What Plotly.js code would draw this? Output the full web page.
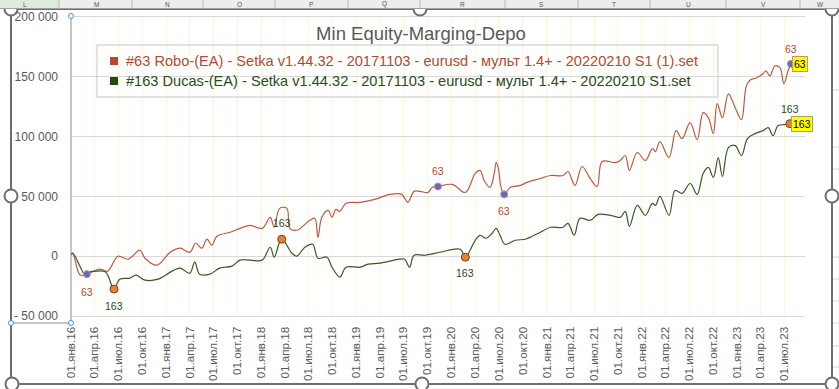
<!DOCTYPE html>
<html>
<head>
<meta charset="utf-8">
<script src="https://cdn.plot.ly/plotly-3.0.1.min.js"></script>
<style>
  html, body { margin: 0; padding: 0; background: #ffffff; }
  #chart { width: 839px; height: 389px; }
</style>
</head>
<body>
<div id="chart"></div>
<script>
// ---- series: minimum equity per date ----
const roboName = '#63 Robo-(EA) - Setka v1.44.32 - 20171103 - eurusd - мульт 1.4+ - 20220210 S1 (1).set';
const ducasName = '#163 Ducas-(EA) - Setka v1.44.32 - 20171103 - eurusd - мульт 1.4+ - 20220210 S1.set';

const roboDates = ['2016-01-01','2016-01-08','2016-02-05','2016-03-02','2016-04-20','2016-05-21','2016-06-29','2016-08-07','2016-09-22','2016-10-11','2016-11-26',
  '2017-01-16','2017-02-23','2017-04-01','2017-04-24','2017-05-17','2017-06-06','2017-06-25','2017-07-14','2017-09-03','2017-10-11','2017-11-19',
  '2018-01-04','2018-02-04','2018-02-19','2018-03-12','2018-04-09','2018-04-20','2018-05-17','2018-07-06','2018-07-25','2018-08-06','2018-08-21','2018-09-14','2018-09-29','2018-10-14','2018-10-29','2018-11-22',
  '2019-01-15','2019-03-12','2019-05-09','2019-06-24','2019-07-17','2019-08-10','2019-09-02','2019-10-03','2019-10-18','2019-11-10',
  '2020-01-04','2020-02-23','2020-04-01','2020-04-20','2020-05-05','2020-05-28','2020-06-13','2020-06-20','2020-06-28','2020-07-09','2020-07-21','2020-08-13','2020-09-21','2020-10-17','2020-12-07',
  '2021-01-15','2021-03-04','2021-03-23','2021-04-19','2021-05-16','2021-06-16','2021-07-13','2021-08-01','2021-09-21','2021-10-10','2021-10-29','2021-11-14','2021-12-14',
  '2022-01-14','2022-02-10','2022-02-22','2022-03-11','2022-04-15','2022-05-12','2022-06-04','2022-07-05','2022-08-01','2022-08-24','2022-09-13','2022-10-02','2022-10-17','2022-11-06','2022-11-29','2022-12-25',
  '2023-01-18','2023-02-06','2023-02-22','2023-03-18','2023-04-11','2023-04-22','2023-05-07','2023-05-27','2023-06-15','2023-06-30','2023-07-16','2023-07-27'];
const roboValues = [1000,2500,-15800,-15000,-10800,-12500,0,-2500,5000,-1700,-7500,
  3300,6700,3300,10800,6700,14200,9200,16700,20000,23300,25800,
  23300,32500,24200,40000,40000,23300,21700,30000,31700,15800,32500,38300,32500,39200,37500,44200,
  45000,47500,51700,51700,45000,54200,54200,53300,57500,58300,
  60000,53300,69200,71700,63300,57500,69200,78300,74200,57500,51700,57500,59200,61700,65000,
  67500,67500,70800,59200,75000,65000,58300,79200,78300,80000,84200,71700,86700,
  80000,90000,87500,95800,82500,105000,98300,111700,97500,120000,115800,102500,127500,115800,135800,124200,
  114200,142500,147500,149200,152500,155000,150800,159200,157500,144200,155000,160800];
const roboMarked = [3, 47, 58, 103];          // labelled points
const roboLabel = '63';

const ducasDates = ['2016-01-01','2016-01-08','2016-02-24','2016-03-02','2016-04-09','2016-05-13','2016-06-14','2016-07-06','2016-08-14','2016-09-07','2016-10-11','2016-11-30',
  '2017-01-23','2017-02-23','2017-04-01','2017-04-20','2017-05-09','2017-06-17','2017-07-25','2017-09-10','2017-10-11','2017-11-19',
  '2018-01-04','2018-02-04','2018-02-19','2018-03-20','2018-04-28','2018-05-17','2018-06-17','2018-07-17','2018-08-06','2018-09-10','2018-09-29','2018-10-29','2018-11-22',
  '2019-01-15','2019-02-15','2019-04-01','2019-06-16','2019-07-05','2019-07-24','2019-08-10','2019-09-21','2019-11-18',
  '2020-02-04','2020-02-23','2020-04-01','2020-04-20','2020-05-12','2020-06-05','2020-06-20','2020-07-05','2020-07-24','2020-09-02','2020-10-10','2020-11-06','2020-12-07',
  '2021-01-15','2021-03-04','2021-03-23','2021-04-16','2021-05-08','2021-06-16','2021-07-17','2021-09-02','2021-10-10','2021-10-29','2021-11-14','2021-12-14',
  '2022-01-14','2022-02-10','2022-02-22','2022-03-11','2022-04-15','2022-05-08','2022-06-04','2022-07-05','2022-08-01','2022-08-24','2022-09-13','2022-10-02','2022-10-21','2022-11-06','2022-11-29','2022-12-25',
  '2023-01-18','2023-02-10','2023-03-11','2023-04-11','2023-05-01','2023-05-19','2023-06-08','2023-07-04','2023-07-23'];
const ducasValues = [1000,2500,-15800,-14000,-12500,-13300,-27500,-19200,-18300,-15800,-20000,-19200,
  -12500,-10000,-14200,-5000,-15000,-15000,-10000,-8300,-3300,-3300,
  -3300,7500,-800,14200,2500,0,7500,10000,-1700,-800,-9200,-17500,-9200,
  -9200,-6700,-5800,-2500,-2500,-9200,800,800,3300,
  5800,-800,13300,17500,15000,19200,23300,17500,10000,13300,14200,16700,20000,
  24200,24200,27500,17500,31700,30000,35000,34200,32500,37500,25000,42500,
  34200,44200,42500,50000,34200,55000,52500,60800,51700,69200,74200,65800,82500,66700,90800,92500,
  84200,98300,102500,105000,107500,100800,109200,110000,110800];
const ducasMarked = [6, 25, 45, 93];
const ducasLabel = '163';

// ---- axis ticks ----
const yTickVals = [-50000, 0, 50000, 100000, 150000, 200000];
const yTickText = ['- 50 000', '0', '50 000', '100 000', '150 000', '200 000'];
const monthNames = ['янв', 'апр', 'июл', 'окт'];
const xTickVals = [], xTickText = [];
for (let y = 2016; y <= 2023; y++) {
  for (let q = 0; q < 4; q++) {
    if (y === 2023 && q > 2) break;
    const mm = String(q * 3 + 1).padStart(2, '0');
    xTickVals.push(y + '-' + mm + '-01');
    xTickText.push('01.' + monthNames[q] + '.' + String(y).slice(2));
  }
}

// ---- styling ----
const FONT = "'Liberation Sans', Arial, sans-serif";
const roboColor = '#bb5a40', roboText = '#b14a2e';
const ducasColor = '#355a22', ducasText = '#2b4a19';
const frameColor = '#6e6e6e';

// plot box in pixels -> paper coordinates
const L = 71, R = 805, T = 17, B = 316;
const PX = x => (x - L) / (R - L);
const PY = y => (B - y) / (B - T);

const shapes = [];
const line = (x0, y0, x1, y1, color, width) => shapes.push({
  type: 'line', xref: 'paper', yref: 'paper', x0: PX(x0), y0: PY(y0), x1: PX(x1), y1: PY(y1),
  line: { color: color, width: width }
});
const rect = (x0, y0, x1, y1, fill, color, width) => shapes.push({
  type: 'rect', xref: 'paper', yref: 'paper', x0: PX(x0), y0: PY(y0), x1: PX(x1), y1: PY(y1),
  fillcolor: fill, line: { color: color, width: width }
});
const circle = (cx, cy, r, fill, color, width) => shapes.push({
  type: 'circle', xref: 'paper', yref: 'paper', x0: PX(cx - r), y0: PY(cy + r), x1: PX(cx + r), y1: PY(cy - r),
  fillcolor: fill, line: { color: color, width: width }
});

// spreadsheet row borders to the right of the chart
[90, 147, 169, 257, 279, 301, 323, 346, 367].forEach(y => line(833, y, 839, y, '#d4d4d4', 1));

// chart frame with sizing handles
rect(11, 9, 832, 384, 'rgba(0,0,0,0)', frameColor, 2);
[[11, 196], [832, 196], [12, 384], [422, 384], [832, 384], [11, 9], [420, 9], [832, 9]]
  .forEach(p => circle(p[0], p[1], 6.5, '#ffffff', frameColor, 2));

// value-axis box
line(71, 16, 71, 323, '#8a8a8a', 1);
line(11, 323, 71, 323, '#8a8a8a', 1);
[[71, 16], [11, 323], [71, 323]].forEach(p => circle(p[0], p[1], 2.5, '#ffffff', '#4a8fd8', 1));

// column header strip
rect(0, 0, 839, 8, '#eceeec', 'rgba(0,0,0,0)', 0);
rect(0, 0, 59, 8, '#dcebdc', 'rgba(0,0,0,0)', 0);
const colEdges = [59, 132, 203, 275, 348, 420, 505, 578, 650, 726, 800];
colEdges.forEach(x => line(x, 0, x, 8, '#b8b8b8', 1));
line(0, 8.5, 839, 8.5, '#a0a0a0', 1);

// legend box and swatches
rect(97, 45, 718, 97, 'rgba(0,0,0,0)', '#c4c4c4', 1);
rect(110, 57, 118, 65, roboText, 'rgba(0,0,0,0)', 0);
rect(110, 77, 118, 85, '#244a0e', 'rgba(0,0,0,0)', 0);

const annotations = [];
const note = (x, y, text, opts) => annotations.push(Object.assign({
  xref: 'paper', yref: 'paper', x: PX(x), y: PY(y), text: text, showarrow: false,
  font: { family: FONT, size: 12, color: '#444' }
}, opts));

// legend text
note(124, 61, roboName, { xanchor: 'left', yanchor: 'middle', font: { family: FONT, size: 14.6, color: roboText } });
note(124, 81, ducasName, { xanchor: 'left', yanchor: 'middle', font: { family: FONT, size: 14.6, color: ducasText } });

// column letters
const colLetters = ['L', 'M', 'N', 'O', 'P', 'Q', 'R', 'S', 'T', 'U', 'V', 'W'];
const colCenters = [25, 96, 167, 239, 311, 384, 462, 541, 614, 688, 763, 820];
colLetters.forEach((c, i) => note(colCenters[i], 4.5, c, {
  xanchor: 'center', yanchor: 'middle', borderpad: 0, font: { family: FONT, size: 6.5, color: '#555' }
}));

// point labels taken from the series
function pointLabels(dates, values, idx, text, color, shifts) {
  idx.forEach((i, k) => annotations.push({
    x: dates[i], y: values[i], xref: 'x', yref: 'y', text: text, showarrow: false,
    yshift: shifts[k], font: { family: FONT, size: 10.5, color: color }
  }));
}
pointLabels(roboDates, roboValues, roboMarked, roboLabel, roboText, [-18, 15, -17, 15]);
pointLabels(ducasDates, ducasValues, ducasMarked, ducasLabel, ducasText, [-17, 16, -16, 15]);

// highlighted callouts on the last values
const rLast = roboDates.length - 1, dLast = ducasDates.length - 1;
annotations.push({
  x: roboDates[rLast], y: roboValues[rLast], xref: 'x', yref: 'y', text: roboLabel, showarrow: false,
  xanchor: 'left', yanchor: 'middle', xshift: 1, bgcolor: '#ffff00', bordercolor: '#d8904c', borderwidth: 1, borderpad: 1,
  font: { family: FONT, size: 10.5, color: '#000' }
});
annotations.push({
  x: ducasDates[dLast], y: ducasValues[dLast], xref: 'x', yref: 'y', text: ducasLabel, showarrow: false,
  xanchor: 'left', yanchor: 'middle', xshift: 1, bgcolor: '#ffff00', bordercolor: '#9aab5a', borderwidth: 1, borderpad: 1,
  font: { family: FONT, size: 10.5, color: '#000' }
});

const traces = [
  {
    type: 'scatter', mode: 'lines', x: roboDates, y: roboValues, name: roboName,
    line: { color: roboColor, width: 1.2, shape: 'spline', smoothing: 1 }, hoverinfo: 'skip'
  },
  {
    type: 'scatter', mode: 'lines', x: ducasDates, y: ducasValues, name: ducasName,
    line: { color: ducasColor, width: 1.2, shape: 'spline', smoothing: 1 }, hoverinfo: 'skip'
  },
  {
    type: 'scatter', mode: 'markers', x: roboMarked.map(i => roboDates[i]), y: roboMarked.map(i => roboValues[i]),
    marker: { size: 7, color: '#5b6cc4', line: { color: '#c98a8a', width: 1 } }, hoverinfo: 'skip'
  },
  {
    type: 'scatter', mode: 'markers', x: ducasMarked.map(i => ducasDates[i]), y: ducasMarked.map(i => ducasValues[i]),
    marker: { size: 8, color: '#ed7d31', line: { color: '#6b4a22', width: 1 } }, hoverinfo: 'skip'
  }
];

const layout = {
  width: 839, height: 389,
  margin: { l: L, r: 839 - R, t: T, b: 389 - B, pad: 0 },
  paper_bgcolor: '#ffffff', plot_bgcolor: '#ffffff',
  showlegend: false,
  font: { family: FONT, color: '#595959' },
  title: {
    text: 'Min Equity-Marging-Depo',
    font: { family: FONT, size: 18.5, color: '#595959' },
    x: 421 / 839, xref: 'container', xanchor: 'center',
    y: 1 - 34 / 389, yref: 'container', yanchor: 'middle'
  },
  xaxis: {
    type: 'date', range: ['2016-01-01', '2023-09-19'],
    tickmode: 'array', tickvals: xTickVals, ticktext: xTickText, tickangle: -90,
    tickfont: { family: FONT, size: 11.7, color: '#595959' },
    showgrid: true, gridcolor: '#fcf6d2', gridwidth: 1,
    showline: true, linecolor: '#d9d9d9', linewidth: 1, mirror: true,
    zeroline: false, ticks: '', ticklabelstandoff: 5
  },
  yaxis: {
    range: [-50000, 200000],
    tickmode: 'array', tickvals: yTickVals, ticktext: yTickText,
    tickfont: { family: FONT, size: 12, color: '#595959' },
    showgrid: true, gridcolor: '#d9d9d9', gridwidth: 1,
    zeroline: false, showline: false, ticks: '', ticklabelstandoff: 12
  },
  shapes: shapes,
  annotations: annotations
};

Plotly.newPlot('chart', traces, layout, { staticPlot: true, displayModeBar: false });
</script>
</body>
</html>
